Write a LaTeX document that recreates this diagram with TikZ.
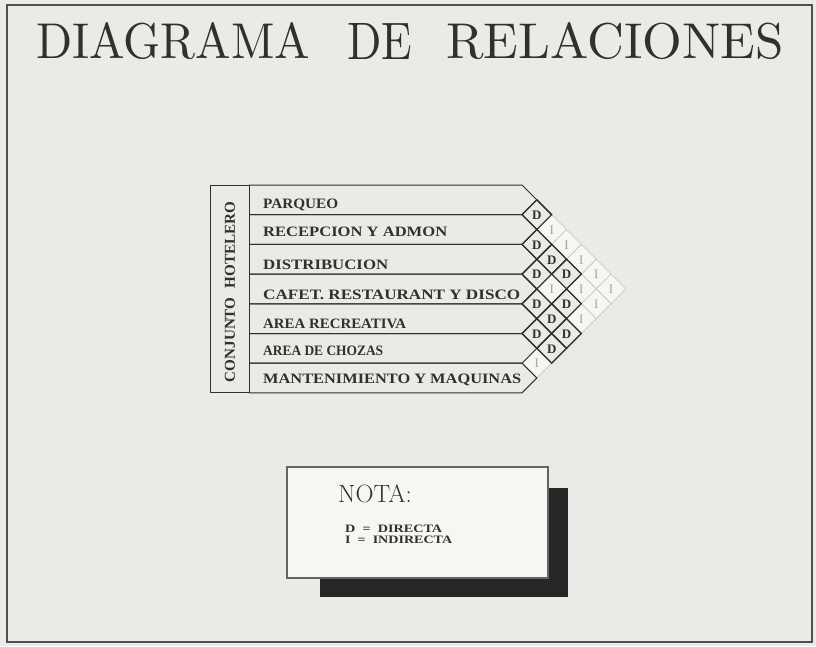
\documentclass[tikz,border=0pt]{standalone}
\usepackage{fontspec}
\usepackage{graphicx}
\newfontfamily\lblfont{Liberation Serif}
\definecolor{bg}{HTML}{EAEAE6}
\definecolor{ink}{HTML}{303030}
\definecolor{lightline}{HTML}{C6C6C2}
\definecolor{cellw}{HTML}{F6F6F3}
\definecolor{lettI}{HTML}{A4A4A0}
\definecolor{shadowc}{HTML}{262626}
\tikzset{
  frameline/.style={draw=ink!85, line width=1.3pt},
  rowline/.style={draw=ink, line width=1pt, line join=miter},
  lbl/.style={anchor=west, inner sep=0pt, text=ink, font=\lblfont\bfseries},
  dcell/.style={draw=ink, fill=bg, line width=1.1pt},
  icell/.style={draw=lightline, fill=cellw, line width=0.7pt},
  dtext/.style={inner sep=0pt, text=ink, font=\lblfont\bfseries\fontsize{13}{13}\selectfont},
  itext/.style={inner sep=0pt, text=lettI, font=\lblfont\fontsize{13}{13}\selectfont},
  ttl/.style={anchor=west, inner sep=0pt, text=ink},
}
\newcommand\fitlbl[2]{\resizebox{#1}{9.5pt}{#2}}
\newcommand\fitttl[2]{\resizebox{#1}{36pt}{#2}}
\begin{document}
\begin{tikzpicture}[x=1pt,y=-1pt]
\useasboundingbox (0,0) rectangle (816,646);
\fill[bg] (0,0) rectangle (816,646);
\draw[frameline] (7,5) rectangle (812,642);

% title
\node[ttl] (t1) at (36,41) {\fitttl{274pt}{DIAGRAMA}};
\node[ttl] (t2) at (347,41) {\fitttl{65pt}{DE}};
\node[ttl] (t3) at (446,41) {\fitttl{337pt}{RELACIONES}};

% left column
\draw[rowline] (210,185) rectangle (249,392.9);
\node[inner sep=0pt, rotate=90, text=ink, font=\lblfont\bfseries] (conj) at (230,292)
  {\resizebox{180pt}{10pt}{CONJUNTO\hspace{0.6em}HOTELERO}};

% relation cells: 1 = D (directa), 0 = I (indirecta)
\foreach \i/\j/\t in {1/2/1,1/3/0,1/4/0,1/5/0,1/6/0,1/7/0,2/3/1,2/4/1,2/5/1,2/6/0,2/7/0,3/4/1,3/5/0,3/6/1,3/7/0,4/5/1,4/6/1,4/7/1,5/6/1,5/7/1,6/7/0}{
  \pgfmathsetmacro\cx{522+(\j-\i)*14.85}
  \pgfmathsetmacro\cy{185+14.85+(\i+\j-2)*14.85}
  \ifnum\t=1
    \draw[dcell] (\cx-14.85,\cy) -- (\cx,\cy-14.85) -- (\cx+14.85,\cy) -- (\cx,\cy+14.85) -- cycle;
    \node[dtext] (c\i\j) at (\cx,\cy+0.5) {D};
  \else
    \draw[icell] (\cx-14.85,\cy) -- (\cx,\cy-14.85) -- (\cx+14.85,\cy) -- (\cx,\cy+14.85) -- cycle;
    \node[itext] (c\i\j) at (\cx,\cy+0.5) {I};
  \fi
}
% redraw D cell borders on top of I cells
\foreach \i/\j in {1/2,2/3,2/4,2/5,3/4,3/6,4/5,4/6,4/7,5/6,5/7}{
  \pgfmathsetmacro\cx{522+(\j-\i)*14.85}
  \pgfmathsetmacro\cy{185+14.85+(\i+\j-2)*14.85}
  \draw[draw=ink, line width=1.1pt] (\cx-14.85,\cy) -- (\cx,\cy-14.85) -- (\cx+14.85,\cy) -- (\cx,\cy+14.85) -- cycle;
}

% rows
\foreach \i in {1,...,7}{
  \pgfmathsetmacro\yt{185+(\i-1)*29.7}
  \draw[rowline] (249,\yt) -- (522,\yt) -- (536.85,\yt+14.85) -- (522,\yt+29.7) -- (249,\yt+29.7);
}

% row labels
\node[lbl] (r1) at (263,205) {\fitlbl{75pt}{PARQUEO}};
\node[lbl] (r2) at (263,232) {\fitlbl{184pt}{RECEPCION\ Y\ ADMON}};
\node[lbl] (r3) at (263,265) {\fitlbl{125pt}{DISTRIBUCION}};
\node[lbl] (r4) at (263,295) {\fitlbl{257pt}{CAFET.\ RESTAURANT\ Y\ DISCO}};
\node[lbl] (r5) at (263,324) {\fitlbl{143pt}{AREA\ RECREATIVA}};
\node[lbl] (r6) at (263,351) {\fitlbl{120pt}{AREA\ DE\ CHOZAS}};
\node[lbl] (r7) at (263,380) {\fitlbl{258pt}{MANTENIMIENTO\ Y\ MAQUINAS}};

% note
\fill[shadowc] (320,488) rectangle (568,597);
\draw[fill=cellw, draw=ink!75, line width=1.6pt] (287,467) rectangle (548,578);
\node[anchor=west, inner sep=0pt, text=ink, font=\fontsize{25}{25}\selectfont] (nota) at (338,494) {NOTA:};
\node[anchor=west, inner sep=0pt, text=ink, font=\lblfont\bfseries] (nd) at (345,529) {\resizebox{97pt}{7.5pt}{D\ \ =\ \ DIRECTA}};
\node[anchor=west, inner sep=0pt, text=ink, font=\lblfont\bfseries] (ni) at (345,540) {\resizebox{107pt}{7.5pt}{I\ \ =\ \ INDIRECTA}};
\end{tikzpicture}
\end{document}
